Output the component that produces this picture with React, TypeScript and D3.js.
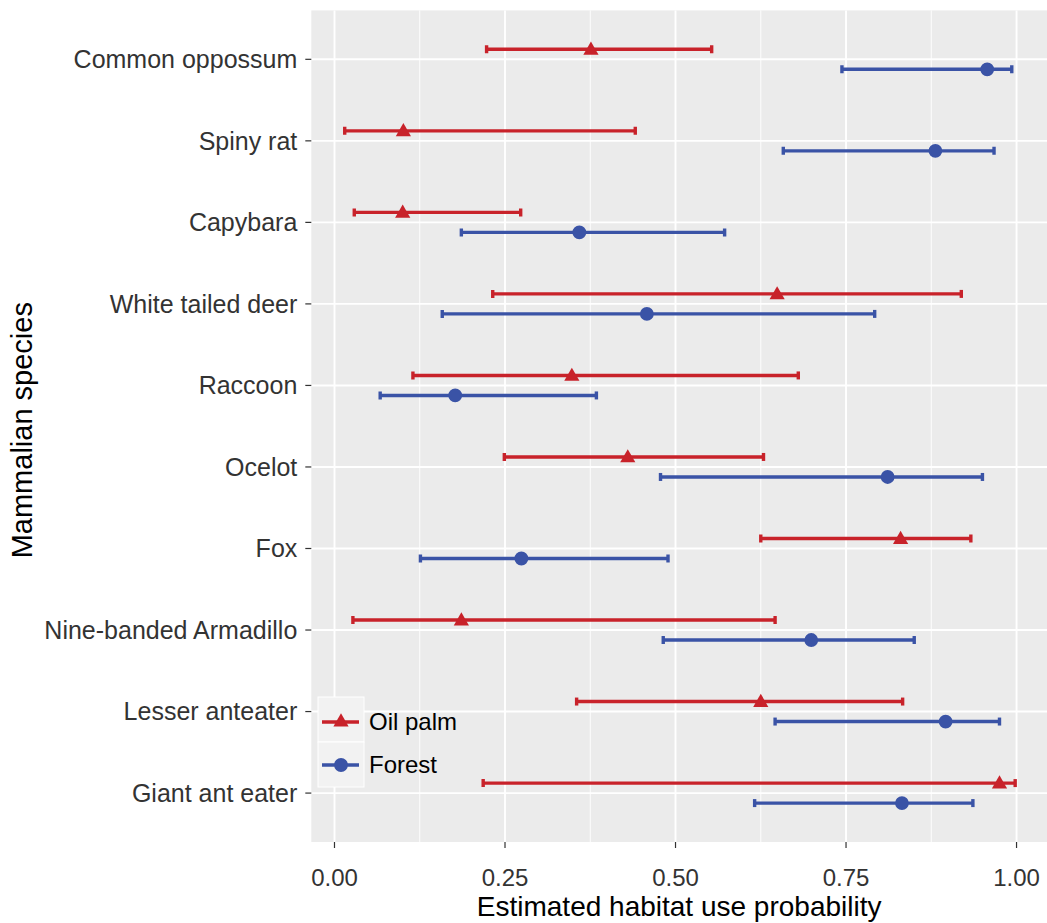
import * as d3 from 'd3';

const species = [
  'Common oppossum',
  'Spiny rat',
  'Capybara',
  'White tailed deer',
  'Raccoon',
  'Ocelot',
  'Fox',
  'Nine-banded Armadillo',
  'Lesser anteater',
  'Giant ant eater',
];

// Oil palm estimates (mean, lower, upper)
const oilMean = [0.376, 0.101, 0.1, 0.649, 0.348, 0.43, 0.83, 0.186, 0.625, 0.975];
const oilLo = [0.223, 0.015, 0.029, 0.232, 0.115, 0.249, 0.625, 0.027, 0.355, 0.218];
const oilHi = [0.553, 0.441, 0.273, 0.919, 0.68, 0.629, 0.933, 0.646, 0.833, 0.998];

// Forest estimates
const forestMean = [0.957, 0.881, 0.359, 0.458, 0.177, 0.811, 0.274, 0.699, 0.896, 0.832];
const forestLo = [0.744, 0.658, 0.186, 0.158, 0.067, 0.478, 0.126, 0.482, 0.646, 0.616];
const forestHi = [0.993, 0.967, 0.572, 0.792, 0.384, 0.95, 0.489, 0.85, 0.975, 0.936];

const xTicks = [0, 0.25, 0.5, 0.75, 1];
const xMinor = [0.125, 0.375, 0.625, 0.875];
const legendLabels = ['Oil palm', 'Forest'];

const RED = '#c8222a';
const BLUE = '#3a53a6';
const FONT = '"Liberation Sans", Arial, sans-serif';

export default function App() {
  const width = 1047;
  const height = 923;
  const panel = { left: 311.3, right: 1048.6, top: 10.4, bottom: 842 };

  const x = d3.scaleLinear().domain([-0.034, 1.047]).range([panel.left, panel.right]);
  const y = d3.scalePoint<string>().domain(species).range([panel.top, panel.bottom]).padding(0.6);

  const dodge = 10;
  const groups = [
    { name: 'Oil palm', color: RED, mean: oilMean, lo: oilLo, hi: oilHi, dy: -dodge, shape: d3.symbolTriangle, size: 100 },
    { name: 'Forest', color: BLUE, mean: forestMean, lo: forestLo, hi: forestHi, dy: dodge, shape: d3.symbolCircle, size: 150 },
  ];

  const capH = 4;

  return (
    <svg
      width={width}
      height={height}
      style={{ position: 'absolute', left: 0, top: 0, background: '#fff' }}
    >
      <defs>
        <clipPath id="panelClip">
          <rect x={panel.left} y={panel.top} width={width - panel.left} height={panel.bottom - panel.top} />
        </clipPath>
      </defs>
      <rect
        x={panel.left}
        y={panel.top}
        width={panel.right - panel.left}
        height={panel.bottom - panel.top}
        fill="#ebebeb"
      />
      {xMinor.map((t) => (
        <line key={'mi' + t} x1={x(t)} x2={x(t)} y1={panel.top} y2={panel.bottom} stroke="#fff" strokeWidth={0.9} />
      ))}
      {xTicks.map((t) => (
        <line key={'ma' + t} x1={x(t)} x2={x(t)} y1={panel.top} y2={panel.bottom} stroke="#fff" strokeWidth={1.9} />
      ))}
      {species.map((s) => (
        <line key={'h' + s} x1={panel.left} x2={panel.right} y1={y(s)} y2={y(s)} stroke="#fff" strokeWidth={1.9} />
      ))}

      <g clipPath="url(#panelClip)">
        {groups.map((g) =>
          species.map((s, i) => {
            const cy = (y(s) as number) + g.dy;
            return (
              <g key={g.name + s} stroke={g.color} strokeWidth={3.4}>
                <line x1={x(g.lo[i])} x2={x(g.hi[i])} y1={cy} y2={cy} />
                <line x1={x(g.lo[i])} x2={x(g.lo[i])} y1={cy - capH} y2={cy + capH} />
                <line x1={x(g.hi[i])} x2={x(g.hi[i])} y1={cy - capH} y2={cy + capH} />
              </g>
            );
          })
        )}
        {groups.map((g) =>
          species.map((s, i) => {
            const cy = (y(s) as number) + g.dy;
            const p = d3.symbol().type(g.shape).size(g.size)() as string;
            return (
              <path
                key={'p' + g.name + s}
                d={p}
                transform={`translate(${x(g.mean[i])},${cy + (g.shape === d3.symbolTriangle ? 1 : 0)})`}
                fill={g.color}
              />
            );
          })
        )}
      </g>

      {/* y axis */}
      {species.map((s) => (
        <g key={'yl' + s}>
          <line x1={panel.left - 6} x2={panel.left} y1={y(s)} y2={y(s)} stroke="#333" strokeWidth={1.2} />
          <text
            x={panel.left - 14}
            y={y(s)}
            dy="0.35em"
            textAnchor="end"
            fontFamily={FONT}
            fontSize={25}
            fill="#333"
          >
            {s}
          </text>
        </g>
      ))}

      {/* x axis */}
      {xTicks.map((t) => (
        <g key={'xl' + t}>
          <line x1={x(t)} x2={x(t)} y1={panel.bottom} y2={panel.bottom + 6} stroke="#333" strokeWidth={1.2} />
          <text
            x={x(t)}
            y={panel.bottom + 44}
            textAnchor="middle"
            fontFamily={FONT}
            fontSize={24}
            fill="#333"
          >
            {d3.format('.2f')(t)}
          </text>
        </g>
      ))}

      <text x={(panel.left + 1047) / 2 + 0} y={916} textAnchor="middle" fontFamily={FONT} fontSize={28} fill="#000">
        Estimated habitat use probability
      </text>
      <text
        transform={`translate(32,${(panel.top + panel.bottom) / 2 + 4}) rotate(-90)`}
        textAnchor="middle"
        fontFamily={FONT}
        fontSize={29}
        fill="#000"
      >
        Mammalian species
      </text>

      {/* legend */}
      {groups.map((g, i) => {
        const ky = 697 + i * 45;
        const cy = ky + 25 + (i === 1 ? -2 : 0);
        const p = d3.symbol().type(g.shape).size(g.size)() as string;
        return (
          <g key={'lg' + g.name}>
            <rect x={318} y={ky} width={46} height={45} fill="#f2f2f2" stroke="#fff" strokeWidth={1} />
            <line x1={322} x2={359} y1={cy} y2={cy} stroke={g.color} strokeWidth={3.4} />
            <path d={p} transform={`translate(341,${cy})`} fill={g.color} />
            <text x={369} y={cy} dy="0.35em" fontFamily={FONT} fontSize={24} fill="#000">
              {legendLabels[i]}
            </text>
          </g>
        );
      })}
    </svg>
  );
}
